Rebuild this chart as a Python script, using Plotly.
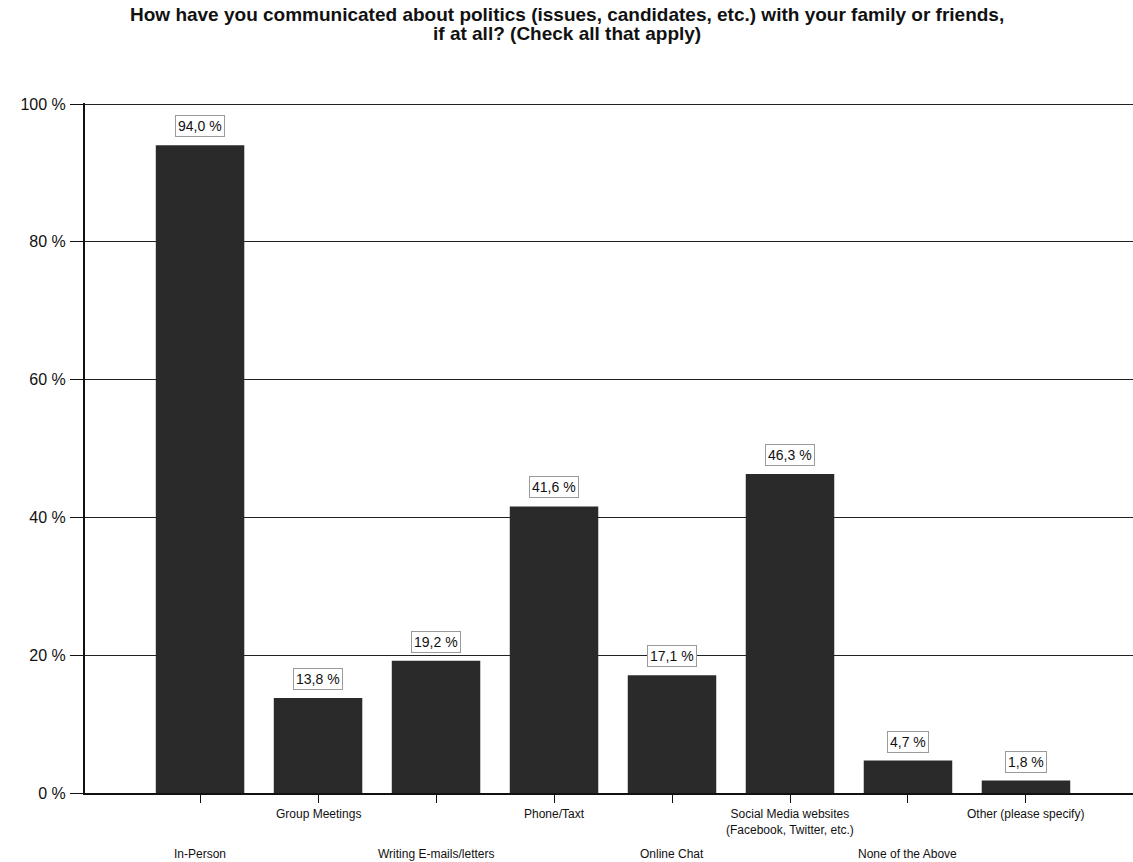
import plotly.graph_objects as go

# Survey responses
categories = [
    "In-Person",
    "Group Meetings",
    "Writing E-mails/letters",
    "Phone/Taxt",
    "Online Chat",
    "Social Media websites<br>(Facebook, Twitter, etc.)",
    "None of the Above",
    "Other (please specify)",
]
values = [94.0, 13.8, 19.2, 41.6, 17.1, 46.3, 4.7, 1.8]
y_ticks = [0, 20, 40, 60, 80, 100]
y_tick_labels = ["0 %", "20 %", "40 %", "60 %", "80 %", "100 %"]

title_lines = [
    "How have you communicated about politics (issues, candidates, etc.) with your family or friends,",
    "if at all? (Check all that apply)",
]

FONT = "Liberation Sans, Arial, sans-serif"
BAR_COLOR = "#2a2a2a"

PAGE_W = 1133
PAGE_H = 862
PLOT_LEFT = 85
PLOT_TOP = 103
PLOT_H = 690
PLOT_W = PAGE_W - PLOT_LEFT

x_pos = list(range(len(categories)))

fig = go.Figure()
fig.add_trace(go.Bar(
    x=x_pos,
    y=values,
    width=0.75,
    marker=dict(color=BAR_COLOR, line=dict(width=0)),
    hoverinfo="skip",
))

annotations = []

# Two-line bold title, centred on the page
for k, line in enumerate(title_lines):
    py = 14 + 20 * k
    annotations.append(dict(
        x=(PAGE_W / 2 - PLOT_LEFT) / PLOT_W, xref="paper", xanchor="center",
        y=1 + (PLOT_TOP - py) / PLOT_H, yref="paper", yanchor="middle",
        text=f"<b>{line}</b>", showarrow=False,
        font=dict(family=FONT, size=19, color="#111111"),
    ))

# Value labels above each bar
for i, v in enumerate(values):
    annotations.append(dict(
        x=i, y=v, xref="x", yref="y",
        text=f"{v:.1f} %".replace(".", ","),
        showarrow=False, yanchor="bottom", yshift=8,
        font=dict(family=FONT, size=14, color="#111111"),
        bordercolor="#9a9a9a", borderwidth=1, borderpad=2,
        bgcolor="white",
    ))

# Category labels in two staggered rows
for i, c in enumerate(categories):
    upper = (i % 2 == 1)
    annotations.append(dict(
        x=i, y=-0.018 if upper else -0.075, xref="x", yref="paper",
        text=c, showarrow=False, yanchor="top",
        font=dict(family=FONT, size=12, color="#111111"),
        align="center",
    ))

fig.update_layout(
    width=PAGE_W, height=PAGE_H,
    margin=dict(l=PLOT_LEFT, r=0, t=PLOT_TOP, b=PAGE_H - PLOT_TOP - PLOT_H),
    paper_bgcolor="white", plot_bgcolor="white",
    showlegend=False,
    bargap=0.25,
    xaxis=dict(
        range=[-0.975, 7.907],
        tickvals=x_pos, ticktext=[""] * len(x_pos),
        ticks="outside", ticklen=8, tickcolor="#111111", tickwidth=1,
        showgrid=False, zeroline=False,
        showline=True, linecolor="#111111", linewidth=2,
        fixedrange=True,
    ),
    yaxis=dict(
        range=[0, 100.15],
        tickvals=y_ticks, ticktext=y_tick_labels,
        ticks="outside", ticklen=13, tickcolor="#111111", tickwidth=1,
        showgrid=True, gridcolor="#222222", gridwidth=1,
        zeroline=False,
        showline=True, linecolor="#111111", linewidth=2,
        tickfont=dict(family=FONT, size=16, color="#111111"),
        ticklabelstandoff=1,
        fixedrange=True,
    ),
    annotations=annotations,
)

fig.write_html("out.html", config={"displayModeBar": False})
